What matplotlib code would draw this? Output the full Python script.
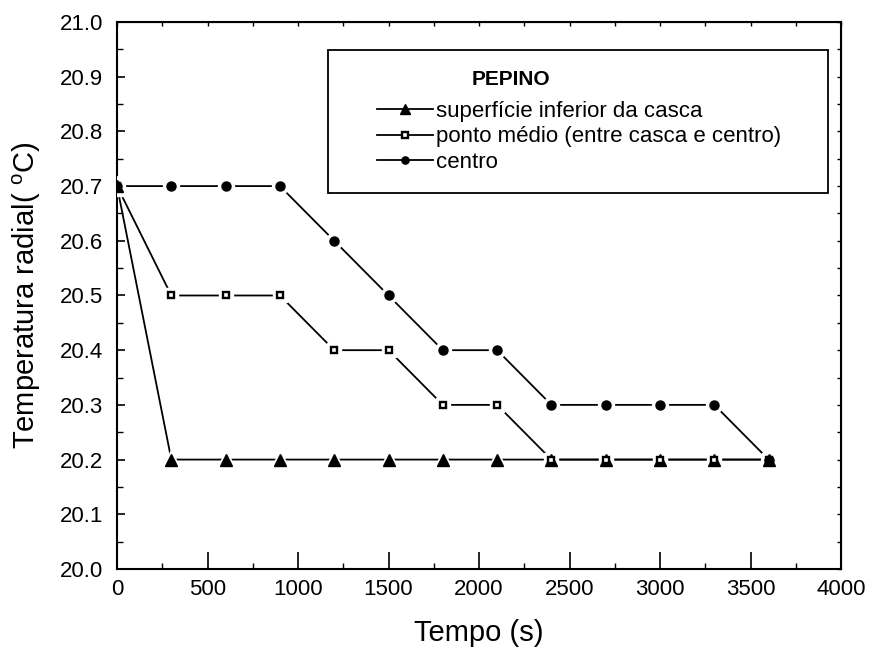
import matplotlib
matplotlib.use("Agg")
import matplotlib.pyplot as plt
from matplotlib.patches import Rectangle
from matplotlib.ticker import MultipleLocator, FormatStrFormatter

# dados
tempo = [0, 300, 600, 900, 1200, 1500, 1800, 2100, 2400, 2700, 3000, 3300, 3600]
superficie = [20.7, 20.2, 20.2, 20.2, 20.2, 20.2, 20.2, 20.2, 20.2, 20.2, 20.2, 20.2, 20.2]
ponto_medio = [20.7, 20.5, 20.5, 20.5, 20.4, 20.4, 20.3, 20.3, 20.2, 20.2, 20.2, 20.2, 20.2]
centro = [20.7, 20.7, 20.7, 20.7, 20.6, 20.5, 20.4, 20.4, 20.3, 20.3, 20.3, 20.3, 20.2]

labels = ["superfície inferior da casca",
          "ponto médio (entre casca e centro)",
          "centro"]

plt.rcParams["font.family"] = ["Liberation Sans", "DejaVu Sans"]

fig = plt.figure(figsize=(8.76, 6.49), dpi=100)
ax = fig.add_axes([0.1336, 0.1233, 0.8265, 0.8428])

series = [(superficie, "^", 9, "black", 1.0),
          (ponto_medio, "s", 4.8, "white", 1.7),
          (centro, "o", 6.5, "black", 1.0)]
leg_handles = []
for ys, mk, ms, fc, mew in series:
    # linha, depois um halo branco para deixar o espaço junto aos marcadores
    ax.plot(tempo, ys, "-", color="black", lw=1.3, zorder=2)
    ax.plot(tempo, ys, ls="none", marker=mk, ms=ms + 5, mfc="white",
            mec="white", zorder=3)
    ax.plot(tempo, ys, ls="none", marker=mk, ms=ms, mfc=fc, mec="black",
            mew=mew, zorder=4)
    # handle da legenda com linha
    l, = ax.plot([], [], "-", color="black", lw=1.3, marker=mk, ms=ms,
                 mfc=fc, mec="black", mew=mew)
    leg_handles.append(l)

ax.set_xlim(0, 4000)
ax.set_ylim(20.0, 21.0)
ax.xaxis.set_major_locator(MultipleLocator(500))
ax.xaxis.set_minor_locator(MultipleLocator(250))
ax.yaxis.set_major_locator(MultipleLocator(0.1))
ax.yaxis.set_minor_locator(MultipleLocator(0.05))
ax.yaxis.set_major_formatter(FormatStrFormatter("%.1f"))

ax.tick_params(axis="x", which="major", direction="in", length=12, width=1.2,
               labelsize=16, pad=7)
ax.tick_params(axis="x", which="minor", direction="in", length=4, width=1)
ax.tick_params(axis="y", which="major", direction="in", length=6, width=1.2,
               labelsize=16, pad=10)
ax.tick_params(axis="y", which="minor", direction="in", length=4, width=1)
for s in ax.spines.values():
    s.set_linewidth(1.5)

# ticks pequenos em cima e à direita
top = ax.secondary_xaxis("top")
top.xaxis.set_major_locator(MultipleLocator(250))
top.tick_params(direction="in", length=3, width=1, labeltop=False)
right = ax.secondary_yaxis("right")
right.yaxis.set_major_locator(MultipleLocator(0.05))
right.tick_params(direction="in", length=3, width=1, labelright=False)

ax.set_xlabel("Tempo (s)", fontsize=21, labelpad=14)
ax.set_ylabel("Temperatura radial( $^{\\mathregular{o}}$C)", fontsize=21, labelpad=12)

# caixa da legenda
ax.add_patch(Rectangle((0.291, 0.687), 0.691, 0.262, transform=ax.transAxes,
                       fill=False, edgecolor="black", lw=1.3, zorder=5))
ax.text(0.490, 0.894, "PEPINO", transform=ax.transAxes, fontsize=15,
        fontweight="bold", va="center", ha="left")
leg = ax.legend(leg_handles, labels, loc="upper left",
                bbox_to_anchor=(0.359, 0.856), frameon=False, fontsize=16,
                handlelength=2.5, handletextpad=0.15, labelspacing=0.21,
                borderaxespad=0, borderpad=0, markerscale=0.8)

fig.savefig("out.png", dpi=100)
